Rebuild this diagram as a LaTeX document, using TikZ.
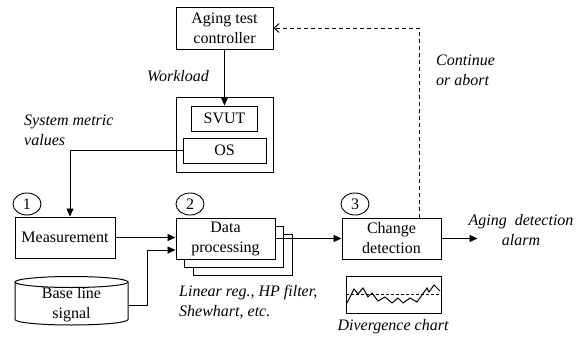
\documentclass[tikz,border=0pt]{standalone}
\usepackage{fontspec}
\setmainfont{Liberation Serif}
\usetikzlibrary{arrows.meta,calc,shapes.geometric}

\begin{document}
\begin{tikzpicture}[x=1pt,y=-1pt,
  every node/.style={font=\fontsize{16}{20}\selectfont},
  box/.style={draw, line width=1pt, fill=white, inner sep=0pt, align=center},
  num/.style={draw, ellipse, line width=0.9pt, fill=white, minimum width=28pt, minimum height=22pt, inner sep=0pt},
  lbl/.style={font=\fontsize{16}{20}\selectfont\itshape, inner sep=0pt},
  arr/.style={line width=0.9pt, -{Triangle[length=8pt,width=7pt]}},
  feedback/.style={line width=0.9pt, dash pattern=on 4pt off 3pt, -{Straight Barb[length=5pt,width=9pt]}},
]
\useasboundingbox (0,0) rectangle (582,338);

% controller and system under test
\node[box, minimum width=97pt, minimum height=42pt] (ctrl) at (224.5,28) {Aging test\\controller};
\node[box, minimum width=97pt, minimum height=75pt] (sys) at (224.5,134.5) {};
\node[box, minimum width=66pt, minimum height=25pt] (svut) at (224.5,118.5) {SVUT};
\node[box, minimum width=83pt, minimum height=25pt] (os) at (224.5,150.5) {OS};

% processing chain
\node[box, minimum width=100pt, minimum height=41pt] (meas) at (65,237.5) {Measurement};
\node[box, minimum width=99pt, minimum height=41pt] (data3) at (242.5,254.5) {};
\node[box, minimum width=99pt, minimum height=41pt] (data2) at (234,246.5) {};
\node[box, minimum width=99pt, minimum height=41pt] (data) at (225.5,238.5) {Data\\processing};
\node[box, minimum width=99pt, minimum height=41pt] (chg) at (391.5,238.5) {Change\\detection};

% step numbers
\node[num] (n1) at (27,204) {1};
\node[num] (n2) at (190,204) {2};
\node[num] (n3) at (355,204) {3};

% base line signal store
\draw[line width=1pt] (15,282) -- (15,319.5)
  arc[start angle=180, end angle=0, x radius=56.5, y radius=5.5] -- (128,282);
\draw[line width=1pt] (71.5,282) ellipse [x radius=56.5, y radius=5.5];
\node[align=center, inner sep=0pt, minimum width=113pt, minimum height=40pt] (base) at (71.5,305) {Base line\\signal};

% divergence chart
\node[draw, line width=1pt, minimum width=95pt, minimum height=37pt, inner sep=0pt] (chart) at (393.5,294.5) {};
\draw[line width=0.8pt, dash pattern=on 3pt off 2pt] (chart.west) -- (chart.east);
\draw[line width=1pt] (347,303) -- (354,289) -- (358,294) -- (363,288) -- (368,297) -- (372,293)
  -- (378,301) -- (385,297) -- (392,303) -- (398,298) -- (403,303) -- (410,298) -- (417,302)
  -- (427,288) -- (429,292) -- (434,285) -- (440,291);

% labels
\node[lbl, anchor=east] (wl) at (209,76) {Workload};
\node[lbl, anchor=west, align=left] (smv) at (24,130) {System metric\\values};
\node[lbl, anchor=west, align=left] (coa) at (436,70) {Continue\\or abort};
\node[lbl, anchor=west, align=left] (lin) at (179,302) {Linear reg., HP filter,\\Shewhart, etc.};
\node[lbl, align=center] (alarm) at (521,230) {Aging\ \ detection\\alarm};
\node[lbl] (dc) at (393,327) {Divergence chart};

% connectors
\draw[arr] (ctrl.south) -- (svut.north);
\draw[arr] (os.west) -| ($(meas.north)+(5,0)$);
\draw[arr] (meas.east) -- (data.west |- meas.east);
\draw[arr] (base.east) -- ++(19,0) |- ($(data.west)+(0,11.5)$);
\draw[arr] (data.east) -- (chg.west);
\draw[arr] (chg.east) -- ++(36,0) coordinate (out);
\draw[feedback] ($(chg.north)+(27.5,0)$) |- (ctrl.east);
\end{tikzpicture}
\end{document}
